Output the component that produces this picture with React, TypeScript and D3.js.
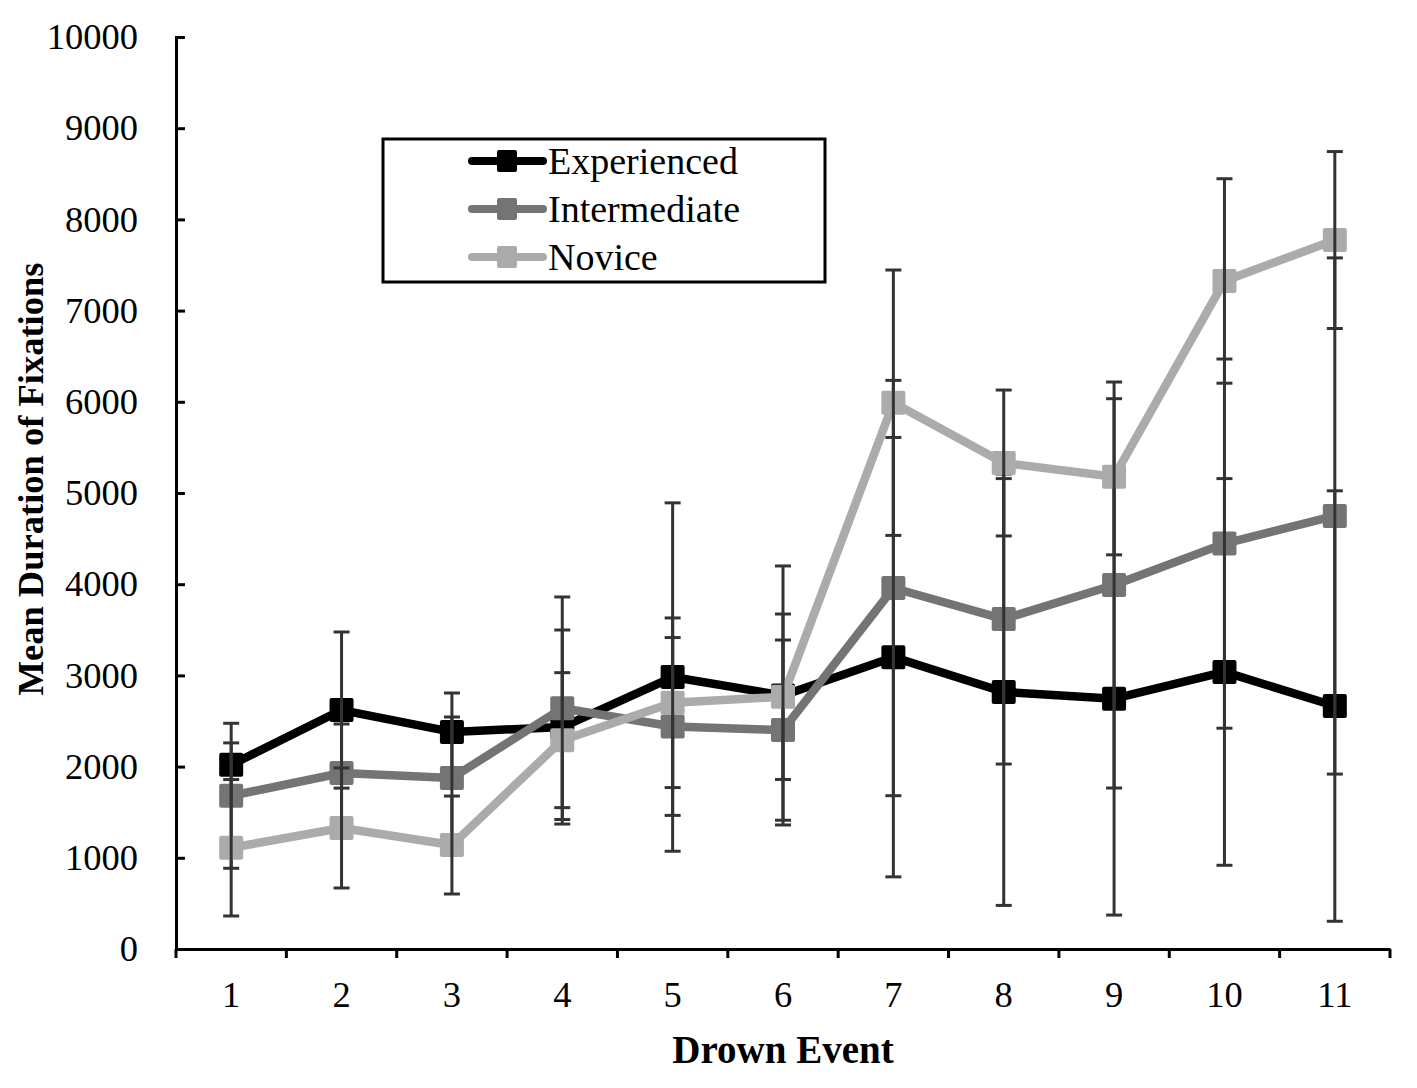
import { useRef, useEffect } from 'react';
import * as d3 from 'd3';

const events = ['1', '2', '3', '4', '5', '6', '7', '8', '9', '10', '11'];
const yTicks = [0, 1000, 2000, 3000, 4000, 5000, 6000, 7000, 8000, 9000, 10000];

const experienced = [2020, 2620, 2380, 2434, 2982, 2780, 3200, 2818, 2745, 3038, 2664];
const experiencedErr = [240, 856, 427, 1064, 1910, 1420, 2409, 2340, 2373, 2120, 2360];
const intermediate = [1680, 1930, 1875, 2640, 2440, 2400, 3958, 3618, 3991, 4445, 4748];
const intermediateErr = [795, 537, 669, 1220, 975, 988, 2277, 1590, 2226, 2024, 2830];
const novice = [1110, 1327, 1140, 2290, 2700, 2766, 5990, 5329, 5178, 7325, 7774];
const noviceErr = [748, 658, 537, 740, 930, 907, 1455, 800, 856, 1121, 970];

const seriesNames = ['Experienced', 'Intermediate', 'Novice'];

export default function App() {
    const svgRef = useRef<SVGSVGElement>(null);

    useEffect(() => {
        if (!svgRef.current) return;
        document.body.style.margin = '0';

        const width = 1417;
        const height = 1088;
        const margin = { top: 37, right: 27, bottom: 139, left: 176 };
        const font = '"Liberation Serif", "Times New Roman", serif';

        d3.select(svgRef.current).selectAll('*').remove();
        const svg = d3.select(svgRef.current)
            .attr('width', width)
            .attr('height', height);

        const x = d3.scaleBand()
            .domain(events)
            .range([margin.left, width - margin.right]);

        const y = d3.scaleLinear()
            .domain([0, 10000])
            .range([height - margin.bottom, margin.top]);

        const series = [
            { name: seriesNames[0], values: experienced, err: experiencedErr, color: '#000000' },
            { name: seriesNames[1], values: intermediate, err: intermediateErr, color: '#747474' },
            { name: seriesNames[2], values: novice, err: noviceErr, color: '#ababab' },
        ];

        const cx = (i: number) => (x(events[i]) || 0) + x.bandwidth() / 2;

        // Series: line, markers, error bars
        series.forEach(s => {
            const line = d3.line<number>()
                .x((d, i) => cx(i))
                .y(d => y(d));

            svg.append('path')
                .datum(s.values)
                .attr('fill', 'none')
                .attr('stroke', s.color)
                .attr('stroke-width', 8.5)
                .attr('stroke-linejoin', 'round')
                .attr('d', line);

            svg.selectAll(null)
                .data(s.values)
                .enter()
                .append('rect')
                .attr('x', (d, i) => cx(i) - 12)
                .attr('y', d => y(d) - 12)
                .attr('width', 24)
                .attr('height', 24)
                .attr('rx', 2)
                .attr('fill', s.color);

            const bars = svg.append('g')
                .attr('stroke', '#333333')
                .attr('stroke-width', 3);

            s.values.forEach((v, i) => {
                const top = y(v + s.err[i]);
                const bot = y(v - s.err[i]);
                bars.append('line')
                    .attr('x1', cx(i)).attr('x2', cx(i))
                    .attr('y1', top).attr('y2', bot);
                [top, bot].forEach(yy => {
                    bars.append('line')
                        .attr('x1', cx(i) - 8).attr('x2', cx(i) + 8)
                        .attr('y1', yy).attr('y2', yy);
                });
            });
        });

        // Y axis
        const yAxis = svg.append('g')
            .attr('transform', `translate(${margin.left},0)`)
            .call(d3.axisRight(y).tickValues(yTicks).tickSize(9).tickFormat(d3.format('d')));
        yAxis.selectAll('text')
            .attr('x', -38)
            .attr('text-anchor', 'end')
            .attr('fill', '#000')
            .style('font-family', font)
            .style('font-size', '36.5px');

        // X axis
        const xAxis = svg.append('g')
            .attr('transform', `translate(0,${height - margin.bottom})`)
            .call(d3.axisBottom(x).tickSize(0));
        xAxis.selectAll('text')
            .attr('y', 58)
            .attr('dy', 0)
            .attr('fill', '#000')
            .style('font-family', font)
            .style('font-size', '36.5px');

        const boundaries = events.map(e => x(e) || 0).concat([width - margin.right]);
        svg.append('g')
            .selectAll('line')
            .data(boundaries)
            .enter()
            .append('line')
            .attr('x1', d => d).attr('x2', d => d)
            .attr('y1', height - margin.bottom)
            .attr('y2', height - margin.bottom + 9)
            .attr('stroke', '#000')
            .attr('stroke-width', 3);

        svg.selectAll('.domain, .tick line')
            .attr('stroke', '#000')
            .attr('stroke-width', 3);

        // Axis titles
        svg.append('text')
            .attr('x', (margin.left + width - margin.right) / 2)
            .attr('y', 1063)
            .attr('text-anchor', 'middle')
            .style('font-family', font)
            .style('font-size', '39px')
            .style('font-weight', 'bold')
            .text('Drown Event');

        svg.append('text')
            .attr('transform', `translate(43,${(margin.top + height - margin.bottom) / 2 - 14}) rotate(-90)`)
            .attr('text-anchor', 'middle')
            .style('font-family', font)
            .style('font-size', '36.5px')
            .style('font-weight', 'bold')
            .text('Mean Duration of Fixations');

        // Legend
        const legend = svg.append('g').attr('transform', 'translate(383,139)');
        legend.append('rect')
            .attr('width', 442)
            .attr('height', 143)
            .attr('fill', '#fff')
            .attr('stroke', '#000')
            .attr('stroke-width', 3);

        series.forEach((s, i) => {
            const row = legend.append('g').attr('transform', `translate(0,${22 + i * 48})`);
            row.append('line')
                .attr('x1', 89).attr('x2', 160)
                .attr('stroke', s.color)
                .attr('stroke-width', 8)
                .attr('stroke-linecap', 'round');
            row.append('rect')
                .attr('x', 114).attr('y', -11)
                .attr('width', 20).attr('height', 22)
                .attr('rx', 2)
                .attr('fill', s.color);
            row.append('text')
                .attr('x', 165)
                .attr('y', 13)
                .style('font-family', font)
                .style('font-size', '38px')
                .text(s.name);
        });
    }, []);

    return (
        <div>
            <svg ref={svgRef}></svg>
        </div>
    );
}
